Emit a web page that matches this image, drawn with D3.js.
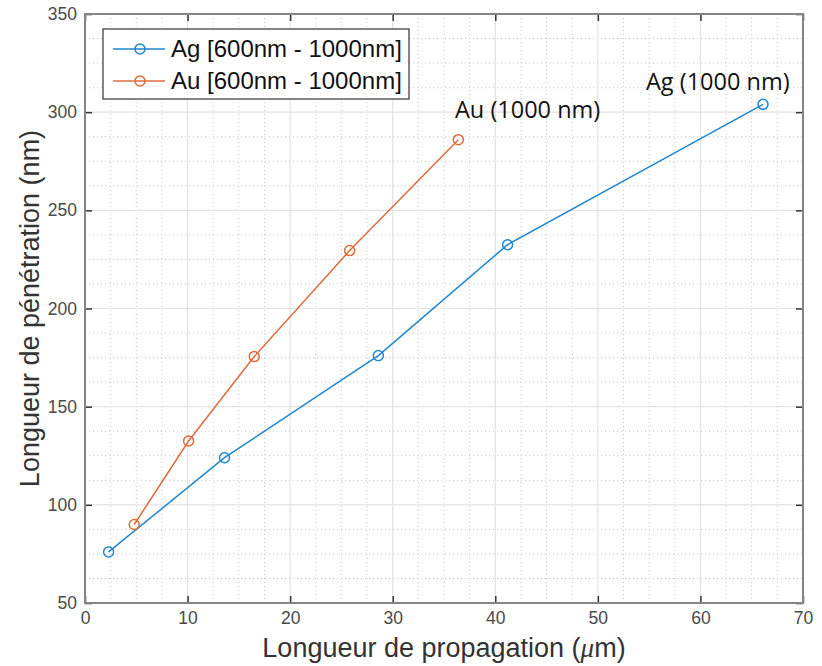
<!DOCTYPE html>
<html>
<head>
<meta charset="utf-8">
<script src="https://cdn.jsdelivr.net/npm/d3@7"></script>
<style>
  body { margin: 0; background: #fff; }
  text { font-family: "Liberation Sans", Arial, sans-serif; }
</style>
</head>
<body>
<div id="wrap"></div>
<script>
// data
var agX = [2.3, 13.6, 28.6, 41.2, 66.1];
var agY = [76, 124, 176, 232.5, 304];
var auX = [4.8, 10.1, 16.5, 25.8, 36.4];
var auY = [90, 132.5, 175.5, 229.5, 286];
var xTicks = [0, 10, 20, 30, 40, 50, 60, 70];
var yTicks = [50, 100, 150, 200, 250, 300, 350];
var legendNames = ['Ag [600nm - 1000nm]', 'Au [600nm - 1000nm]'];
var colors = ['#1f86cf', '#e06a3c'];

var W = 822, H = 666;
var margin = {top: 14, right: 19, bottom: 63, left: 85},
    width = W - margin.left - margin.right,
    height = H - margin.top - margin.bottom;

var svg = d3.select('#wrap').append('svg')
    .attr('width', W)
    .attr('height', H);

var g = svg.append('g')
    .attr('transform', 'translate(' + margin.left + ',' + margin.top + ')');

var x = d3.scaleLinear().domain([0, 70]).range([0, width]),
    y = d3.scaleLinear().domain([50, 350]).range([height, 0]);

// minor grid (dotted)
var xMinor = d3.range(0, 70.01, 2.5).filter(function(v){ return v % 10 != 0; });
var yMinor = d3.range(50, 350.01, 12.5).filter(function(v){ return v % 50 != 0; });
g.selectAll('.xminor').data(xMinor).enter().append('line')
  .attr('x1', function(d){return x(d);}).attr('x2', function(d){return x(d);})
  .attr('y1', 0).attr('y2', height)
  .attr('stroke', '#c8c8c8').attr('stroke-width', 1).attr('stroke-dasharray', '1,3');
g.selectAll('.yminor').data(yMinor).enter().append('line')
  .attr('y1', function(d){return y(d);}).attr('y2', function(d){return y(d);})
  .attr('x1', 0).attr('x2', width)
  .attr('stroke', '#c8c8c8').attr('stroke-width', 1).attr('stroke-dasharray', '1,3');

// major grid
g.selectAll('.xgrid').data(xTicks).enter().append('line')
  .attr('x1', function(d){return x(d);}).attr('x2', function(d){return x(d);})
  .attr('y1', 0).attr('y2', height)
  .attr('stroke', '#e2e2e2').attr('stroke-width', 1.2);
g.selectAll('.ygrid').data(yTicks).enter().append('line')
  .attr('y1', function(d){return y(d);}).attr('y2', function(d){return y(d);})
  .attr('x1', 0).attr('x2', width)
  .attr('stroke', '#e2e2e2').attr('stroke-width', 1.2);

// axes
var xAxis = g.append('g').attr('transform', 'translate(0,' + height + ')')
  .call(d3.axisBottom(x).tickValues(xTicks).tickSizeInner(-7).tickSizeOuter(0).tickPadding(9));
var yAxis = g.append('g')
  .call(d3.axisLeft(y).tickValues(yTicks).tickSizeInner(-7).tickSizeOuter(0).tickPadding(8));
var xTop = g.append('g')
  .call(d3.axisTop(x).tickValues(xTicks).tickSizeInner(-7).tickSizeOuter(0).tickFormat(''));
var yRight = g.append('g').attr('transform', 'translate(' + width + ',0)')
  .call(d3.axisRight(y).tickValues(yTicks).tickSizeInner(-7).tickSizeOuter(0).tickFormat(''));

[xAxis, yAxis, xTop, yRight].forEach(function(a){
  a.select('.domain').remove();
  a.selectAll('.tick line').attr('stroke', '#333').attr('stroke-width', 1.5);
  a.selectAll('.tick text').attr('fill', '#4a4a4a').style('font-size', '17.5px')
    .style('font-family', '"Liberation Sans", Arial, sans-serif');
});
xAxis.selectAll('.tick text').attr('dy', '0.71em');

g.append('rect')
  .attr('x', 0).attr('y', 0).attr('width', width).attr('height', height)
  .attr('fill', 'none').attr('stroke', '#858585').attr('stroke-width', 2);

// series
var series = [
  {xs: agX, ys: agY, color: colors[0]},
  {xs: auX, ys: auY, color: colors[1]}
];
var line = d3.line()
  .x(function(d){return x(d[0]);})
  .y(function(d){return y(d[1]);});

series.forEach(function(s){
  var pts = s.xs.map(function(v, i){ return [v, s.ys[i]]; });
  g.append('path').datum(pts)
    .attr('d', line)
    .attr('fill', 'none')
    .attr('stroke', s.color)
    .attr('stroke-width', 1.5);
  g.selectAll(null).data(pts).enter().append('circle')
    .attr('cx', function(d){return x(d[0]);})
    .attr('cy', function(d){return y(d[1]);})
    .attr('r', 5)
    .attr('fill', 'none')
    .attr('stroke', s.color)
    .attr('stroke-width', 1.5);
});

// annotations
svg.append('text').attr('x', 455).attr('y', 118)
  .style('font-family', '"Open Sans", "Noto Sans", sans-serif').style('font-size', '23.5px')
  .attr('fill', '#111').text('Au (1000 nm)');
svg.append('text').attr('x', 646).attr('y', 90)
  .style('font-family', '"Open Sans", "Noto Sans", sans-serif').style('font-size', '23.5px')
  .attr('fill', '#111').text('Ag (1000 nm)');

// legend
var leg = svg.append('g');
leg.append('rect')
  .attr('x', 103).attr('y', 29).attr('width', 306).attr('height', 70)
  .attr('fill', '#fff').attr('stroke', '#333').attr('stroke-width', 1.2);
legendNames.forEach(function(name, i){
  var ly = 49 + i * 32;
  leg.append('line').attr('x1', 113).attr('x2', 165).attr('y1', ly).attr('y2', ly)
    .attr('stroke', colors[i]).attr('stroke-width', 1.5);
  leg.append('circle').attr('cx', 140).attr('cy', ly).attr('r', 5)
    .attr('fill', 'none').attr('stroke', colors[i]).attr('stroke-width', 1.5);
  leg.append('text').attr('x', 171).attr('y', ly + 8)
    .style('font-size', '24px').attr('fill', '#111').text(name);
});

// axis labels
var xl = svg.append('text')
  .attr('x', margin.left + width / 2).attr('y', 657)
  .attr('text-anchor', 'middle')
  .style('font-size', '27px').attr('fill', '#333');
xl.append('tspan').text('Longueur de propagation (');
xl.append('tspan').style('font-style', 'italic').style('font-family', '"Liberation Serif", serif').text('\u03BC');
xl.append('tspan').text('m)');
svg.append('text')
  .attr('transform', 'translate(39,' + (margin.top + height / 2) + ') rotate(-90)')
  .attr('text-anchor', 'middle')
  .style('font-size', '27px').attr('fill', '#333')
  .text('Longueur de pénétration (nm)');
</script>
</body>
</html>
